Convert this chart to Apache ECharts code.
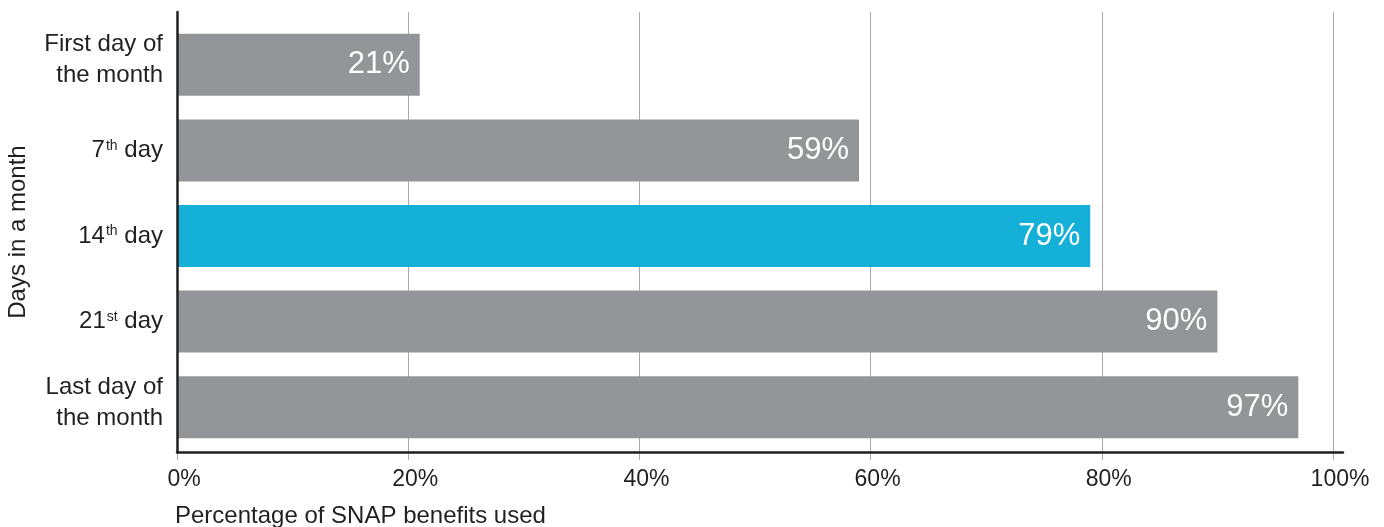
<!DOCTYPE html>
<html>
<head>
<meta charset="utf-8">
<script src="https://cdn.jsdelivr.net/npm/echarts@6/dist/echarts.min.js"></script>
<style>html,body{margin:0;padding:0;background:#fff}#c{width:1384px;height:527px}</style>
</head>
<body>
<div id="c"></div>
<script>
const categories = ['First day of\nthe month', '7th day', '14th day', '21st day', 'Last day of\nthe month'];
const values = [21, 59, 79, 90, 97];
const xTicks = [0, 20, 40, 60, 80, 100];
const highlightCategory = '14th day';
const xAxisTitle = 'Percentage of SNAP benefits used';
const yAxisTitle = 'Days in a month';

const FONT = 'Arial, "Liberation Sans", Helvetica, sans-serif';
const TEXT = '#231f20';
const GRAY = '#939598';
const BLUE = '#14b0d8';
const GRID = '#a7a9ac';

function formatCategory(v) {
  let s = v.replace(/(\d+)(st|nd|rd|th)/, '$1{s|$2}');
  if (s.indexOf('\n') >= 0) s += '\n{g| }';
  return s;
}

const chart = echarts.init(document.getElementById('c'));
chart.setOption({
  animation: false,
  textStyle: { fontFamily: FONT },
  title: {
    text: xAxisTitle, left: 175, top: 504, padding: 0,
    textStyle: { fontFamily: FONT, fontSize: 24, fontWeight: 'normal', color: TEXT }
  },
  grid: [
    { left: 177, right: 41, top: 12, bottom: 75, outerBoundsMode: 'none', containLabel: false },
    { left: 177, right: 51, top: 12, bottom: 75, outerBoundsMode: 'none', containLabel: false },
    { left: 177, right: 51, top: 22, bottom: 77, outerBoundsMode: 'none', containLabel: false }
  ],
  xAxis: [
    { gridIndex: 0, type: 'value', min: 0, max: 100, z: 10,
      axisLine: { show: true, onZero: false, lineStyle: { color: TEXT, width: 2.5 } },
      axisTick: { show: false }, axisLabel: { show: false }, splitLine: { show: false } },
    { gridIndex: 1, type: 'value', min: xTicks[0], max: xTicks[xTicks.length - 1], interval: 20,
      axisLine: { show: false },
      axisTick: { show: true, length: 8, lineStyle: { color: GRID, width: 1 } },
      axisLabel: { show: true, formatter: v => v + '%', fontSize: 23, color: TEXT, margin: 16,
                   padding: [0, 0, 0, 14], fontFamily: FONT },
      splitLine: { show: true, lineStyle: { color: GRID, width: 1 } } },
    { gridIndex: 2, type: 'value', min: 0, max: 100, show: false }
  ],
  yAxis: [
    { gridIndex: 0, type: 'value', min: 0, max: 1, z: 10,
      name: yAxisTitle, nameLocation: 'middle', nameRotate: 90, nameGap: 147,
      nameTextStyle: { fontSize: 24, color: TEXT, fontFamily: FONT },
      axisLine: { show: true, onZero: false, lineStyle: { color: TEXT, width: 2.5 } },
      axisTick: { show: false }, axisLabel: { show: false }, splitLine: { show: false } },
    { gridIndex: 1, type: 'value', show: false },
    { gridIndex: 2, type: 'category', data: categories, inverse: true,
      axisLine: { show: false }, axisTick: { show: false },
      axisLabel: {
        fontSize: 24, color: TEXT, lineHeight: 31, margin: 14, fontFamily: FONT,
        formatter: formatCategory,
        rich: {
          s: { fontSize: 14, color: TEXT, verticalAlign: 'top', lineHeight: 14,
               padding: [4, 0, 0, 1], fontFamily: FONT },
          g: { fontSize: 1, lineHeight: 9 }
        }
      } }
  ],
  series: [{
    type: 'bar', xAxisIndex: 2, yAxisIndex: 2,
    data: values, barWidth: 62,
    itemStyle: { color: p => categories[p.dataIndex] === highlightCategory ? BLUE : GRAY },
    label: { show: true, position: 'insideRight', distance: 10,
             formatter: p => p.value + '%', color: '#fff', fontSize: 31, fontFamily: FONT }
  }]
});
</script>
</body>
</html>
